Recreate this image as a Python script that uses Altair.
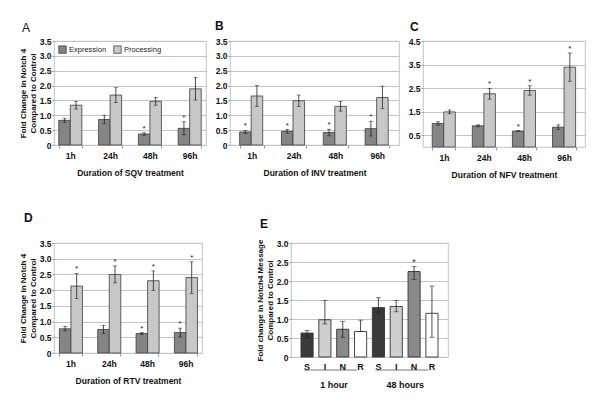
import altair as alt
import pandas as pd

FONT = "Liberation Sans"

times = ["1h", "24h", "48h", "96h"]
series = ["Expression", "Processing"]
series_colors = ["#858585", "#c8c8c8"]

# Panel A - SQV
sqv_expr = [0.83, 0.86, 0.37, 0.56]
sqv_expr_err = [0.07, 0.14, 0.04, 0.22]
sqv_expr_star = [0, 0, 1, 1]
sqv_proc = [1.34, 1.68, 1.47, 1.89]
sqv_proc_err = [0.13, 0.25, 0.13, 0.38]
sqv_proc_star = [0, 0, 0, 0]

# Panel B - INV
inv_expr = [0.44, 0.46, 0.42, 0.55]
inv_expr_err = [0.05, 0.06, 0.11, 0.25]
inv_expr_star = [1, 1, 1, 1]
inv_proc = [1.65, 1.49, 1.30, 1.60]
inv_proc_err = [0.35, 0.19, 0.16, 0.38]
inv_proc_star = [0, 0, 0, 0]

# Panel C - NFV
nfv_expr = [1.00, 0.90, 0.68, 0.84]
nfv_expr_err = [0.07, 0.04, 0.02, 0.10]
nfv_expr_star = [0, 0, 1, 0]
nfv_proc = [1.49, 2.26, 2.40, 3.39]
nfv_proc_err = [0.08, 0.23, 0.20, 0.60]
nfv_proc_star = [0, 1, 1, 1]

# Panel D - RTV
rtv_expr = [0.77, 0.75, 0.62, 0.65]
rtv_expr_err = [0.07, 0.13, 0.03, 0.14]
rtv_expr_star = [0, 0, 1, 1]
rtv_proc = [2.13, 2.50, 2.30, 2.40]
rtv_proc_err = [0.40, 0.27, 0.31, 0.50]
rtv_proc_star = [1, 1, 1, 1]

# Panel E - Notch4 message
e_drugs = ["S", "I", "N", "R"]
e_times = ["1 hour", "48 hours"]
e_1h = [0.63, 0.98, 0.73, 0.67]
e_1h_hi = [0.70, 1.49, 0.94, 0.97]
e_1h_lo = [0.51, 0.87, 0.52, 0.67]
e_1h_star = [0, 0, 0, 0]
e_48h = [1.30, 1.33, 2.25, 1.15]
e_48h_hi = [1.56, 1.49, 2.38, 1.87]
e_48h_lo = [1.15, 1.19, 2.04, 0.52]
e_48h_star = [0, 0, 1, 0]
e_colors = ["#3a3a3a", "#cfcfcf", "#8a8a8a", "#ffffff"]


def grouped_df(expr, expr_err, expr_star, proc, proc_err, proc_star):
    rows = []
    for s, vals, errs, stars in [("Expression", expr, expr_err, expr_star),
                                 ("Processing", proc, proc_err, proc_star)]:
        for t, v, e, st in zip(times, vals, errs, stars):
            rows.append({"time": t, "series": s, "value": v,
                         "lo": v - e, "hi": v + e, "star": st})
    return pd.DataFrame(rows)


def yaxis(ticks, title=None):
    kw = dict(values=ticks,
              labelExpr="datum.value == 0 ? '0' : format(datum.value, '.1f')",
              grid=True, gridColor="#c4c4c4", gridWidth=1, domain=False,
              ticks=True, tickSize=2, tickColor="#999999", labelOverlap=False,
              labelFontSize=8.5, labelFontWeight="bold", labelColor="#111",
              labelPadding=1, labelFont=FONT)
    if title is not None:
        kw.update(title=title, titleFontSize=8, titleFontWeight="bold",
                  titlePadding=2, titleLineHeight=10, titleFont=FONT,
                  titleColor="#111")
    else:
        kw.update(title=None)
    return alt.Axis(**kw)


def grouped_panel(df, letter, weight, dx, offset, xtitle, ymax, yticks,
                  width, height, ytitle=None, legend=False, pi=0.42, po=0.18):
    xenc = alt.X("time:N", sort=times,
                 scale=alt.Scale(paddingInner=pi, paddingOuter=po),
                 axis=alt.Axis(title=xtitle, labelAngle=0, labelFontSize=8.5,
                               labelFontWeight="bold", labelPadding=3,
                               labelColor="#111", labelFont=FONT,
                               ticks=True, tickBand="extent", tickSize=3,
                               tickColor="#999999", domain=False, grid=False,
                               titleFontSize=8.5, titleFontWeight="bold",
                               titlePadding=9, titleFont=FONT, titleColor="#111"))
    xoff = alt.XOffset("series:N", sort=series)
    yscale = alt.Scale(domain=[0, ymax], nice=False, zero=True)
    yax = yaxis(yticks, ytitle)

    def Y(field):
        return alt.Y(field + ":Q", scale=yscale, axis=yax)

    base = alt.Chart(df).encode(x=xenc, xOffset=xoff)
    if legend:
        leg = alt.Legend(orient="none", legendX=4, legendY=4, direction="horizontal",
                         title=None, symbolType="square", symbolSize=55,
                         symbolStrokeColor="#444", symbolStrokeWidth=0.8,
                         labelFontSize=7.5, labelFont=FONT, labelColor="#222",
                         columnPadding=5, labelOffset=2)
        color = alt.Color("series:N", scale=alt.Scale(domain=series, range=series_colors),
                          legend=leg)
    else:
        color = alt.Color("series:N", scale=alt.Scale(domain=series, range=series_colors),
                          legend=None)
    bars = base.mark_bar(stroke="#3c3c3c", strokeWidth=0.8).encode(y=Y("value"), color=color)
    rules = base.mark_rule(color="#222", strokeWidth=0.8).encode(y=Y("lo"), y2="hi:Q")
    cap_hi = base.mark_tick(color="#222", size=4, thickness=0.8).encode(y=Y("hi"))
    cap_lo = base.mark_tick(color="#222", size=4, thickness=0.8).encode(y=Y("lo"))
    stars = base.transform_filter("datum.star == 1").mark_text(
        text="*", dy=-4, fontSize=8, color="#222", font=FONT).encode(y=Y("hi"))
    return alt.layer(bars, rules, cap_hi, cap_lo, stars).properties(
        width=width, height=height,
        title=alt.TitleParams(text=letter, anchor="start", frame="group", dx=dx,
                              offset=offset, fontSize=12, fontWeight=weight,
                              font=FONT, color="#111"))


dfA = grouped_df(sqv_expr, sqv_expr_err, sqv_expr_star, sqv_proc, sqv_proc_err, sqv_proc_star)
dfB = grouped_df(inv_expr, inv_expr_err, inv_expr_star, inv_proc, inv_proc_err, inv_proc_star)
dfC = grouped_df(nfv_expr, nfv_expr_err, nfv_expr_star, nfv_proc, nfv_proc_err, nfv_proc_star)
dfD = grouped_df(rtv_expr, rtv_expr_err, rtv_expr_star, rtv_proc, rtv_proc_err, rtv_proc_star)

ticks35 = [0, 0.5, 1.0, 1.5, 2.0, 2.5, 3.0, 3.5]
ytitle_fc = ["Fold Change in Notch 4", "Compared to Control"]

A = grouped_panel(dfA, "A", "normal", -32, 2, "Duration of SQV treatment", 3.5, ticks35,
                  152, 104, ytitle=ytitle_fc, legend=True, po=0.12)
B = grouped_panel(dfB, "B", "bold", -15, 4, "Duration of INV treatment", 3.5, ticks35,
                  169, 104, po=0.23)
C = grouped_panel(dfC, "C", "bold", -13, 3, "Duration of NFV treatment", 4.5,
                  [0.5, 1.5, 2.5, 3.5, 4.5], 162, 106, po=0.23)
D = grouped_panel(dfD, "D", "bold", -30, 14, "Duration of RTV treatment", 3.5, ticks35,
                  148, 110, ytitle=ytitle_fc, po=0.14)

# Panel E
e_rows = []
for tlabel, tkey, vals, his, los, stars in [("1 hour", "1", e_1h, e_1h_hi, e_1h_lo, e_1h_star),
                                            ("48 hours", "48", e_48h, e_48h_hi, e_48h_lo, e_48h_star)]:
    for d, v, h, l, s in zip(e_drugs, vals, his, los, stars):
        e_rows.append({"cat": d + "|" + tkey, "drug": d, "value": v, "hi": h, "lo": l, "star": s})
dfE = pd.DataFrame(e_rows)
e_order = list(dfE["cat"])

grp_rows = []
for tlabel, tkey in [("1 hour", "1"), ("48 hours", "48")]:
    grp_rows.append({"start": "S|" + tkey, "end": "R|" + tkey, "mid": "I|" + tkey, "label": tlabel})
dfG = pd.DataFrame(grp_rows)

EW, EH = 157, 114
ex_scale = alt.Scale(domain=e_order, paddingInner=0.32, paddingOuter=0.56)
ex_axis = alt.Axis(title=None, labelAngle=0, labelFontSize=9, labelFontWeight="bold",
                   labelPadding=5, labelColor="#111", labelFont=FONT,
                   labelExpr="split(datum.label, '|')[0]", ticks=False, domain=False, grid=False)
e_yscale = alt.Scale(domain=[0, 3.0], nice=False)
e_yaxis = yaxis([0, 0.5, 1.0, 1.5, 2.0, 2.5, 3.0],
                ["Fold change in Notch4 Message", "Compared to Control"])


def EY(field):
    return alt.Y(field + ":Q", scale=e_yscale, axis=e_yaxis)


ebase = alt.Chart(dfE).encode(x=alt.X("cat:N", sort=e_order, scale=ex_scale, axis=ex_axis))
ebars = ebase.mark_bar(stroke="#333", strokeWidth=0.9).encode(
    y=EY("value"),
    color=alt.Color("drug:N", scale=alt.Scale(domain=e_drugs, range=e_colors), legend=None),
)
erules = ebase.mark_rule(color="#222", strokeWidth=0.8).encode(y=EY("lo"), y2="hi:Q")
ecap_hi = ebase.mark_tick(color="#222", size=5, thickness=0.8).encode(y=EY("hi"))
ecap_lo = ebase.mark_tick(color="#222", size=5, thickness=0.8).encode(y=EY("lo"))
estars = ebase.transform_filter("datum.star == 1").mark_text(
    text="*", dy=-5, fontSize=9, color="#222", font=FONT).encode(y=EY("hi"))
gbase = alt.Chart(dfG)
glines = gbase.mark_rule(color="#555", strokeWidth=0.8).encode(
    x=alt.X("start:N", sort=e_order, scale=ex_scale, bandPosition=0.25, axis=ex_axis),
    x2=alt.X2("end:N", bandPosition=0.2),
    y=alt.value(EH + 13),
)
gtext = gbase.mark_text(fontSize=9, fontWeight="bold", font=FONT, color="#111",
                        baseline="middle", dx=3).encode(
    x=alt.X("mid:N", sort=e_order, scale=ex_scale, bandPosition=1, axis=ex_axis),
    y=alt.value(EH + 28),
    text="label:N",
)
E = alt.layer(ebars, erules, ecap_hi, ecap_lo, estars, glines, gtext).properties(
    width=EW, height=EH,
    title=alt.TitleParams(text="E", anchor="start", frame="group", dx=-31, offset=8,
                          fontSize=12, fontWeight="bold", font=FONT, color="#111"))

top = alt.hconcat(A, B, C, spacing=24, bounds="flush").resolve_scale(color="independent")
bottom = alt.hconcat(D, E, spacing=89, bounds="flush").resolve_scale(color="independent")
chart = alt.vconcat(top, bottom, spacing=31).resolve_scale(
    color="independent"
).properties(
    padding={"left": 10, "top": 11, "right": 5, "bottom": 5}
).configure(font=FONT).configure_view(stroke="#b5b5b5", strokeWidth=0.8)

chart.save("out.html", embed_options={"renderer": "svg", "actions": False})
